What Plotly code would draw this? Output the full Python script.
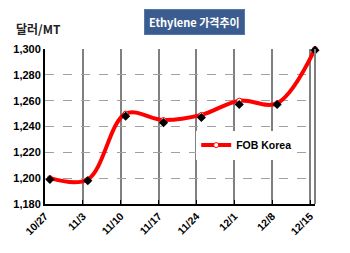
import plotly.graph_objects as go

dates = ["10/27", "11/3", "11/10", "11/17", "11/24", "12/1", "12/8", "12/15"]
fob_korea = [1200, 1199, 1250, 1245, 1249, 1260, 1258, 1300]
marker_vals = [1199, 1198, 1248, 1243, 1247, 1257, 1257, 1299]
y_ticks = [1180, 1200, 1220, 1240, 1260, 1280, 1300]

xs = list(range(len(dates)))
font = "Liberation Sans, Arial, Noto Sans CJK KR, sans-serif"

fig = go.Figure()
fig.add_trace(go.Scatter(
    x=xs, y=fob_korea, mode="lines+markers", name="FOB Korea",
    line=dict(color="#FF0000", width=4, shape="spline", smoothing=1.0),
    marker=dict(symbol="circle", size=5, color="white", line=dict(color="#FF0000", width=1)),
    cliponaxis=False,
))
fig.add_trace(go.Scatter(
    x=xs, y=marker_vals, mode="markers", showlegend=False,
    marker=dict(symbol="diamond", size=7, color="black"),
    cliponaxis=False,
))

off = 0.13
fig.update_layout(
    width=350, height=253,
    margin=dict(l=45, r=35, t=49, b=49),
    paper_bgcolor="white", plot_bgcolor="white",
    font=dict(family=font, size=10, color="black"),
    xaxis=dict(
        range=[-off, len(dates) - 1],
        tickvals=[i - off for i in xs], ticktext=dates,
        tickangle=-45, tickfont=dict(size=10.5, family=font, color="black", weight="bold"),
        showgrid=True, gridcolor="#808080", gridwidth=1.5,
        showline=True, linecolor="black", linewidth=2,
        ticks="inside", ticklen=4, tickcolor="black",
        zeroline=False, fixedrange=True,
    ),
    yaxis=dict(
        range=[1180, 1300], tickvals=y_ticks,
        ticktext=[f"{v:,}" for v in y_ticks],
        tickfont=dict(size=11, family=font, color="black", weight="bold"),
        showgrid=True, gridcolor="#A0A0A0", gridwidth=1, griddash="dash",
        showline=True, linecolor="black", linewidth=2,
        zeroline=False, ticks="", fixedrange=True,
    ),
    legend=dict(
        x=0.56, y=0.38, xanchor="left", yanchor="middle",
        bgcolor="white", font=dict(size=10.5, family=font, color="black", weight="bold"),
        itemwidth=30, tracegroupgap=0,
    ),
    showlegend=True,
)

fig.add_shape(type="line", xref="paper", yref="paper", x0=1, x1=1, y0=0, y1=1,
              line=dict(color="#808080", width=2))

fig.add_annotation(
    text="Ethylene 가격추이", xref="paper", yref="paper",
    x=0.555, y=1.0, yshift=27, xanchor="center", yanchor="middle", showarrow=False,
    font=dict(size=11, color="white", family="Noto Sans CJK KR, sans-serif", weight="bold"),
    bgcolor="#3B5C8F", bordercolor="#5577AA", borderwidth=1, borderpad=4,
)
fig.add_annotation(
    text="달러/MT", xref="paper", yref="paper",
    x=0, y=1.0, xshift=-31, yshift=21, xanchor="left", yanchor="middle", showarrow=False,
    font=dict(size=12, color="#222222", family="Noto Sans CJK KR, sans-serif", weight="bold"),
)

fig.write_html("out.html")
